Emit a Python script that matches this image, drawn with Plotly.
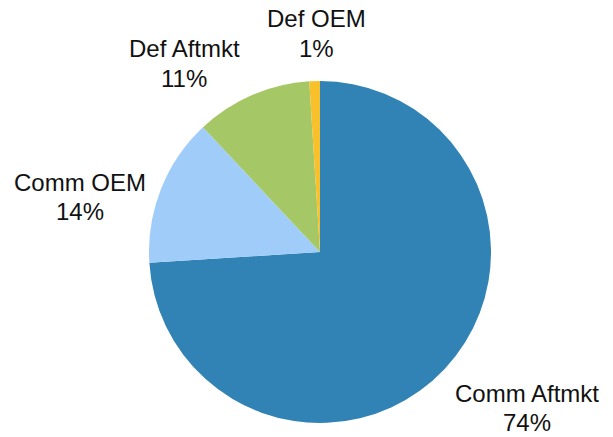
import plotly.graph_objects as go

# Revenue mix by segment
segments = ["Comm Aftmkt", "Comm OEM", "Def Aftmkt", "Def OEM"]
shares = [74, 14, 11, 1]
colors = ["#3183B5", "#9FCCF8", "#A5C765", "#F8C02B"]

W, H = 613, 437
# pie box in pixels (left, top, right, bottom)
pie_box = (149, 81, 491, 423)
# label anchor points in pixels (x, first-line y)
label_pos = [(527, 393), (80, 182), (184, 49), (316, 19)]
line_gap = 29.5

fig = go.Figure(
    go.Pie(
        labels=segments,
        values=shares,
        sort=False,
        direction="clockwise",
        rotation=0,
        marker=dict(colors=colors, line=dict(width=0)),
        textinfo="none",
        hoverinfo="label+percent",
        domain=dict(
            x=[pie_box[0] / W, pie_box[2] / W],
            y=[1 - pie_box[3] / H, 1 - pie_box[1] / H],
        ),
        showlegend=False,
    )
)

total = sum(shares)
annotations = []
for name, val, (px, py) in zip(segments, shares, label_pos):
    pct = f"{round(val / total * 100)}%"
    for i, txt in enumerate([name, pct]):
        annotations.append(
            dict(
                text=txt,
                x=px / W,
                y=1 - (py + i * line_gap) / H,
                xref="paper",
                yref="paper",
                xanchor="center",
                yanchor="middle",
                showarrow=False,
                font=dict(family="Liberation Sans, Arial, sans-serif", size=24, color="#111111"),
            )
        )

fig.update_layout(
    width=W,
    height=H,
    margin=dict(l=0, r=0, t=0, b=0),
    paper_bgcolor="white",
    plot_bgcolor="white",
    annotations=annotations,
)

fig.write_html("out.html")
